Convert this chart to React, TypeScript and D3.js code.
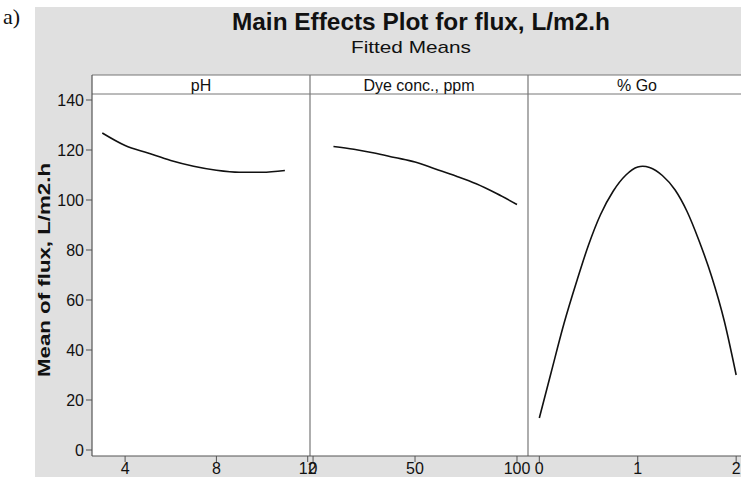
import React from "react";
import * as d3 from "d3";

const W = 741;
const H = 477;

const titleText = "Main Effects Plot for flux, L/m2.h";
const subtitleText = "Fitted Means";
const yLabel = "Mean of flux, L/m2.h";
const panelNames = ["pH", "Dye conc., ppm", "% Go"];

const yTicks = [0, 20, 40, 60, 80, 100, 120, 140];

const phTicks = [4, 8, 12];
const dyeTicks = [0, 50, 100];
const goTicks = [0, 1, 2];

const phX = [3, 4, 5, 6, 7, 8, 9, 10, 11];
const phY = [126.8, 121.8, 118.8, 115.8, 113.5, 111.9, 111.1, 111.1, 111.8];

const dyeX = [10, 20, 30, 40, 50, 60, 70, 80, 90, 100];
const dyeY = [121.4, 120.3, 118.8, 117.0, 115.2, 112.4, 109.6, 106.5, 102.6, 98.2];

const goX = [0, 0.12, 0.25, 0.38, 0.5, 0.62, 0.75, 0.88, 1.0, 1.05, 1.12, 1.25, 1.38, 1.5, 1.62, 1.75, 1.88, 2.0];
const goY = [12.8, 31.0, 50.5, 67.5, 82.0, 94.0, 103.5, 110.0, 113.2, 113.5, 113.0, 109.8, 104.0, 95.5, 84.0, 69.5, 51.5, 30.0];

const FONT = "'Liberation Sans', Arial, sans-serif";

export default function App() {
  const plotLeft = 92;
  const panelW = 218;
  const headerTop = 75;
  const headerBottom = 94;
  const plotBottom = 456;

  const y = d3.scaleLinear().domain([-2.4, 142.4]).range([plotBottom, headerBottom]);

  const panels = [
    { name: panelNames[0], domain: [2.55, 12.1], ticks: phTicks, xs: phX, ys: phY },
    { name: panelNames[1], domain: [-1.5, 105.4], ticks: dyeTicks, xs: dyeX, ys: dyeY },
    { name: panelNames[2], domain: [-0.115, 2.1], ticks: goTicks, xs: goX, ys: goY },
  ].map((p, i) => {
    const x0 = plotLeft + i * panelW;
    const x = d3.scaleLinear().domain(p.domain).range([x0, x0 + panelW]);
    return { ...p, x, x0 };
  });

  const plotRight = plotLeft + 3 * panelW;

  return (
    <svg
      width={W}
      height={H}
      style={{ position: "absolute", left: 0, top: 0, background: "#fff" }}
      fontFamily={FONT}
    >
      <rect x={0} y={0} width={W} height={H} fill="#ffffff" />
      <rect x={35} y={7} width={W - 35} height={H - 7} fill="#e0e0e0" />
      <text x={3} y={24} fontFamily="'Liberation Serif', 'DejaVu Serif', serif" fontSize={22} fill="#111">
        a)
      </text>

      <text
        x={421}
        y={30}
        textAnchor="middle"
        fontSize={23}
        fontWeight="bold"
        fill="#111"
        textLength={378}
        lengthAdjust="spacingAndGlyphs"
      >
        {titleText}
      </text>
      <text
        x={411}
        y={53}
        textAnchor="middle"
        fontSize={17}
        fill="#111"
        textLength={120}
        lengthAdjust="spacingAndGlyphs"
      >
        {subtitleText}
      </text>

      <rect x={plotLeft} y={headerTop} width={plotRight - plotLeft} height={plotBottom - headerTop} fill="#ffffff" />

      <line x1={plotLeft} x2={plotRight} y1={headerTop} y2={headerTop} stroke="#777" strokeWidth={1} />
      <line x1={plotLeft} x2={plotRight} y1={headerBottom} y2={headerBottom} stroke="#777" strokeWidth={1} />

      {panels.map((p, i) => {
        const line = d3
          .line<number>()
          .x((_, k) => p.x(p.xs[k]))
          .y((v) => y(v))
          .curve(d3.curveMonotoneX);
        return (
          <g key={i}>
            <text x={p.x0 + panelW / 2} y={91} textAnchor="middle" fontSize={16} fill="#111">
              {p.name}
            </text>
            {i > 0 && (
              <line x1={p.x0} x2={p.x0} y1={headerTop} y2={plotBottom} stroke="#777" strokeWidth={1.2} />
            )}
            <path d={line(p.ys) || ""} fill="none" stroke="#111" strokeWidth={1.6} />
            {p.ticks.map((t) => (
              <g key={t}>
                <line x1={p.x(t)} x2={p.x(t)} y1={plotBottom} y2={plotBottom + 6} stroke="#555" strokeWidth={1} />
                <text x={p.x(t)} y={474} textAnchor="middle" fontSize={16} fill="#111">
                  {t}
                </text>
              </g>
            ))}
          </g>
        );
      })}

      <line x1={plotLeft} x2={plotLeft} y1={headerTop} y2={plotBottom} stroke="#555" strokeWidth={1.2} />
      <line x1={plotLeft} x2={plotRight} y1={plotBottom} y2={plotBottom} stroke="#555" strokeWidth={1.2} />
      {yTicks.map((t) => (
        <g key={t}>
          <line x1={plotLeft - 6} x2={plotLeft} y1={y(t)} y2={y(t)} stroke="#555" strokeWidth={1} />
          <text x={plotLeft - 8} y={y(t) + 5.5} textAnchor="end" fontSize={16} fill="#111">
            {t}
          </text>
        </g>
      ))}
      <text
        transform={`translate(50, 270) rotate(-90)`}
        textAnchor="middle"
        fontSize={17}
        fontWeight="bold"
        fill="#111"
        textLength={214}
        lengthAdjust="spacingAndGlyphs"
      >
        {yLabel}
      </text>
    </svg>
  );
}
